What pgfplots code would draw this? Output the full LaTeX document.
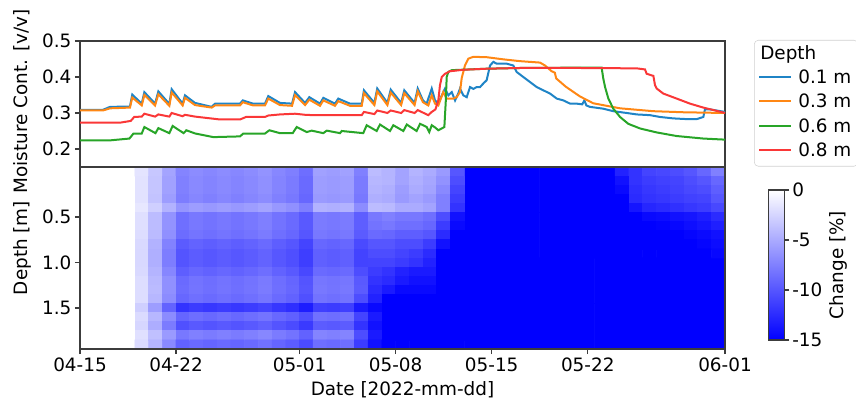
\documentclass[border=0pt]{standalone}
\usepackage{fontspec}
\setmainfont{DejaVu Sans}
\usepackage{pgfplots}
\pgfplotsset{compat=1.18}
\usetikzlibrary{calc}
\newcommand\fs{\fontsize{13.8}{16.5}\selectfont}
\definecolor{cblue}{RGB}{31,132,198}
\definecolor{corange}{RGB}{255,135,20}
\definecolor{cgreen}{RGB}{40,165,40}
\definecolor{cred}{RGB}{250,55,55}
\definecolor{frame}{RGB}{60,60,60}
\pgfplotsset{
  myax/.style={
    scale only axis, width=483.75pt,
    xmin=0, xmax=47,
    tick align=outside, major tick length=3.75pt,
    axis line style={frame, line width=0.9pt},
    major tick style={frame, line width=0.9pt},
    tick label style={font=\fs, inner sep=2.5pt},
    xtick pos=left, ytick pos=left,
  },
  hm/.style={matrix plot*, point meta=explicit, draw=mapped color, line width=0.5pt},
}
\begin{document}
\begin{tikzpicture}
% ---------------- top panel ----------------
\begin{axis}[myax, at={(60pt,177pt)}, anchor=south west, height=94.5pt,
  ymin=0.15, ymax=0.5, xtick=\empty,
  ytick={0.2,0.3,0.4,0.5}, yticklabels={0.2,0.3,0.4,0.5},
  ylabel={Moisture Cont. [v/v]},
  every axis y label/.style={at={(axis description cs:-0.0899,0.52)}, rotate=90, anchor=center, font=\fs},
  legend style={at={(1.045,1.008)}, anchor=north west, draw=black!18, rounded corners=3pt, fill=white,
    font=\fs, inner xsep=3pt, inner ysep=2pt, row sep=0pt,
    nodes={inner xsep=2pt, inner ysep=2.4pt, text height=10.2pt, text depth=3.1pt},
    /tikz/every odd column/.append style={column sep=2.5pt}},
  legend cell align=left,
  legend image code/.code={\draw[#1, line width=1.5pt] (0pt,1.4pt) -- (24pt,1.4pt);},
]
\addlegendimage{empty legend}
\addlegendentry{\hspace*{-28.5pt}Depth}
\addplot[cblue, line width=1.5pt] coordinates {
(0,0.309) (1.68,0.309) (2.19,0.317) (3.64,0.318) (3.81,0.351) (4.50,0.326) (4.69,0.358) (5.47,0.326) (5.71,0.360) (6.51,0.325) (6.68,0.366) (7.48,0.326) (7.65,0.349) (8.38,0.328) (9.60,0.317) (9.84,0.326) (11.66,0.326) (11.86,0.335) (12.61,0.326) (13.48,0.326) (13.72,0.347) (14.57,0.328) (15.45,0.326) (15.67,0.358) (16.40,0.328) (16.71,0.344) (17.49,0.326) (17.73,0.342) (18.58,0.326) (18.82,0.340) (19.67,0.326) (20.53,0.326) (20.69,0.363) (21.45,0.328) (21.66,0.368) (22.40,0.328) (22.64,0.365) (23.40,0.328) (23.63,0.363) (24.38,0.328) (24.61,0.368) (24.99,0.335) (25.26,0.326) (25.63,0.368) (25.87,0.335) (26.11,0.326) (26.36,0.349) (26.60,0.368) (26.84,0.349) (27.09,0.358) (27.33,0.335) (27.57,0.355) (27.69,0.368) (27.93,0.349) (28.18,0.344) (28.42,0.372) (28.66,0.367) (28.91,0.372) (29.15,0.372) (29.39,0.382) (29.63,0.391) (29.88,0.432) (30.12,0.442) (30.36,0.437) (31.09,0.437) (31.57,0.432) (31.82,0.414) (32.30,0.400) (32.79,0.386) (33.28,0.372) (33.76,0.363) (34.25,0.354) (34.74,0.340) (35.22,0.335) (35.71,0.326) (36.19,0.326) (36.60,0.324) (36.75,0.335) (36.90,0.321) (37.16,0.317) (38.13,0.312) (38.86,0.305) (39.84,0.300) (40.57,0.296) (41.53,0.294) (42.26,0.289) (43.23,0.285) (44.21,0.283) (44.94,0.283) (45.42,0.289) (45.54,0.310) (45.91,0.310) (47,0.303)
};
\addlegendentry{0.1 m}
\addplot[corange, line width=1.5pt] coordinates {
(0,0.307) (1.68,0.307) (2.19,0.313) (3.64,0.315) (3.81,0.343) (4.50,0.321) (4.69,0.350) (5.47,0.321) (5.71,0.352) (6.51,0.320) (6.68,0.357) (7.48,0.321) (7.65,0.342) (8.38,0.322) (9.60,0.315) (9.84,0.321) (11.66,0.321) (11.86,0.330) (12.61,0.321) (13.48,0.321) (13.72,0.340) (14.57,0.322) (15.45,0.320) (15.67,0.350) (16.40,0.322) (16.71,0.337) (17.49,0.320) (17.73,0.335) (18.58,0.320) (18.82,0.333) (19.67,0.320) (20.53,0.320) (20.69,0.355) (21.45,0.322) (21.66,0.360) (22.40,0.322) (22.64,0.357) (23.40,0.322) (23.63,0.355) (24.38,0.322) (24.61,0.360) (24.99,0.330) (25.38,0.321) (25.63,0.349) (25.87,0.326) (26.11,0.321) (26.47,0.358) (26.72,0.340) (27.20,0.340) (27.45,0.344) (27.69,0.358) (27.81,0.396) (28.05,0.432) (28.30,0.451) (28.66,0.456) (29.63,0.455) (30.85,0.449) (32.06,0.444) (33.52,0.440) (33.88,0.432) (34.37,0.416) (34.60,0.412) (34.70,0.396) (35.40,0.373) (36.43,0.346) (37.40,0.327) (39.35,0.313) (41.78,0.305) (44.00,0.302) (47,0.300)
};
\addlegendentry{0.3 m}
\addplot[cgreen, line width=1.5pt] coordinates {
(0,0.224) (2.20,0.224) (3.60,0.229) (3.90,0.243) (4.50,0.243) (4.69,0.261) (5.50,0.244) (5.71,0.258) (6.51,0.244) (6.75,0.264) (7.55,0.244) (7.75,0.252) (8.40,0.243) (9.72,0.233) (11.66,0.235) (11.90,0.243) (13.48,0.243) (13.80,0.252) (14.57,0.244) (15.50,0.244) (15.79,0.261) (16.52,0.247) (16.88,0.251) (17.73,0.244) (17.98,0.251) (18.95,0.244) (19.07,0.250) (20.64,0.244) (20.89,0.266) (21.62,0.250) (21.86,0.268) (22.59,0.250) (22.83,0.266) (23.56,0.250) (23.81,0.268) (24.53,0.250) (24.78,0.270) (25.26,0.261) (25.45,0.247) (25.63,0.266) (25.87,0.260) (26.11,0.252) (26.55,0.261) (26.65,0.330) (26.72,0.400) (26.84,0.414) (27.09,0.419) (29.63,0.423) (32.06,0.425) (36.43,0.426) (38.01,0.426) (38.13,0.396) (38.26,0.372) (38.50,0.340) (38.86,0.312) (39.35,0.289) (39.95,0.270) (40.81,0.257) (42.02,0.246) (43.48,0.236) (45.42,0.229) (47,0.226)
};
\addlegendentry{0.6 m}
\addplot[cred, line width=1.5pt] coordinates {
(0,0.273) (2.90,0.273) (3.70,0.278) (3.95,0.289) (4.50,0.290) (4.69,0.298) (5.47,0.290) (5.71,0.296) (6.51,0.290) (6.68,0.300) (7.48,0.291) (7.65,0.295) (8.38,0.290) (10.20,0.282) (11.66,0.282) (12.10,0.289) (13.48,0.289) (13.72,0.293) (14.57,0.296) (15.67,0.298) (16.40,0.295) (17.00,0.294) (20.53,0.294) (20.69,0.303) (21.45,0.297) (21.66,0.307) (22.40,0.300) (22.64,0.307) (23.40,0.300) (23.63,0.308) (24.38,0.300) (24.61,0.308) (25.38,0.294) (25.63,0.303) (25.90,0.310) (26.11,0.335) (26.23,0.377) (26.36,0.400) (26.60,0.409) (26.96,0.416) (27.93,0.420) (29.63,0.423) (32.06,0.425) (36.43,0.425) (40.57,0.424) (41.17,0.421) (41.29,0.409) (41.78,0.403) (41.90,0.377) (42.02,0.368) (42.50,0.354) (43.48,0.340) (44.45,0.326) (45.42,0.315) (46.39,0.306) (47,0.300)
};
\addlegendentry{0.8 m}
\end{axis}
% ---------------- bottom panel ----------------
\begin{axis}[myax, at={(60pt,40.5pt)}, anchor=south west, height=136.5pt,
  axis on top,
  ymin=-0.05, ymax=1.95, y dir=reverse,
  xtick={0,7,16,23,30,37,47},
  xticklabels={04-15,04-22,05-01,05-08,05-15,05-22,06-01},
  ytick={0.5,1.0,1.5}, yticklabels={0.5,1.0,1.5},
  xlabel={Date [2022-mm-dd]}, ylabel={Depth [m]},
  every axis y label/.style={at={(axis description cs:-0.0899,0.555)}, rotate=90, anchor=center, font=\fs},
  every axis x label/.style={at={(axis description cs:0.5,-0.225)}, anchor=center, font=\fs},
  colormap={wb}{rgb255=(0,0,255) rgb255=(255,255,255)},
  point meta min=-15, point meta max=0,
  colorbar,
  colorbar style={
    at={($(parent axis.north east)+(24pt,-17.25pt)$)}, anchor=north west,
    scale only axis, width=12pt, height=112.5pt,
    ytick={-15,-10,-5,0}, yticklabels={-15,-10,-5,0},
    ytick pos=right, yticklabel pos=right,
    tick align=outside, major tick length=3.75pt,
    axis line style={frame, line width=0.9pt},
    major tick style={frame, line width=0.9pt},
    yticklabel style={font=\fs, inner sep=2pt},
    ylabel={Change [\%]},
    every axis y label/.style={at={(axis description cs:4.375,0.5)}, rotate=90, anchor=center, font=\fs},
  },
]
% block A: days 0-4, unchanged
\addplot[hm, mesh/cols=2] table[meta=c, row sep=\\] {
x y c\\ 1 0.45 0\\ 3 0.45 0\\ 1 1.45 0\\ 3 1.45 0\\
};
% block C2: days 28-39, upper depths, saturated
\addplot[hm, mesh/cols=2] table[meta=c, row sep=\\] {
x y c\\ 30.75 0.2 -15\\ 36.25 0.2 -15\\ 30.75 0.7 -15\\ 36.25 0.7 -15\\
};
% block C: days 28-47, lower depths, saturated
\addplot[hm, mesh/cols=2] table[meta=c, row sep=\\] {
x y c\\ 32.75 1.2 -15\\ 42.25 1.2 -15\\ 32.75 1.7 -15\\ 42.25 1.7 -15\\
};
% block B: days 4-28
\addplot[hm, mesh/cols=24] table[meta=c, row sep=\\] {
x y c\\
4.5 0.0 -1.7\\ 5.5 0.0 -3.4\\ 6.5 0.0 -5.4\\ 7.5 0.0 -7.3\\ 8.5 0.0 -6.8\\ 9.5 0.0 -7.1\\ 10.5 0.0 -6.8\\ 11.5 0.0 -7.1\\ 12.5 0.0 -6.8\\ 13.5 0.0 -6.4\\ 14.5 0.0 -7.1\\ 15.5 0.0 -7.6\\ 16.5 0.0 -8.6\\ 17.5 0.0 -5.6\\ 18.5 0.0 -5.8\\ 19.5 0.0 -5.6\\ 20.5 0.0 -7.5\\ 21.5 0.0 -4.0\\ 22.5 0.0 -4.5\\ 23.5 0.0 -5.5\\ 24.5 0.0 -4.5\\ 25.5 0.0 -5.0\\ 26.5 0.0 -6.0\\ 27.5 0.0 -10.0\\
4.5 0.1 -1.8\\ 5.5 0.1 -3.5\\ 6.5 0.1 -5.6\\ 7.5 0.1 -7.5\\ 8.5 0.1 -7.0\\ 9.5 0.1 -7.3\\ 10.5 0.1 -7.0\\ 11.5 0.1 -7.3\\ 12.5 0.1 -7.0\\ 13.5 0.1 -6.6\\ 14.5 0.1 -7.3\\ 15.5 0.1 -7.8\\ 16.5 0.1 -8.8\\ 17.5 0.1 -5.8\\ 18.5 0.1 -6.0\\ 19.5 0.1 -5.8\\ 20.5 0.1 -7.8\\ 21.5 0.1 -4.3\\ 22.5 0.1 -4.5\\ 23.5 0.1 -5.5\\ 24.5 0.1 -4.8\\ 25.5 0.1 -5.3\\ 26.5 0.1 -6.5\\ 27.5 0.1 -10.5\\
4.5 0.2 -1.8\\ 5.5 0.2 -3.5\\ 6.5 0.2 -5.6\\ 7.5 0.2 -7.5\\ 8.5 0.2 -7.0\\ 9.5 0.2 -7.3\\ 10.5 0.2 -7.0\\ 11.5 0.2 -7.3\\ 12.5 0.2 -7.0\\ 13.5 0.2 -6.6\\ 14.5 0.2 -7.3\\ 15.5 0.2 -7.8\\ 16.5 0.2 -8.8\\ 17.5 0.2 -5.8\\ 18.5 0.2 -6.0\\ 19.5 0.2 -5.8\\ 20.5 0.2 -7.8\\ 21.5 0.2 -4.5\\ 22.5 0.2 -4.8\\ 23.5 0.2 -5.8\\ 24.5 0.2 -5.0\\ 25.5 0.2 -5.5\\ 26.5 0.2 -7.0\\ 27.5 0.2 -11.0\\
4.5 0.3 -1.8\\ 5.5 0.3 -3.6\\ 6.5 0.3 -5.8\\ 7.5 0.3 -7.7\\ 8.5 0.3 -7.2\\ 9.5 0.3 -7.5\\ 10.5 0.3 -7.2\\ 11.5 0.3 -7.5\\ 12.5 0.3 -7.2\\ 13.5 0.3 -6.8\\ 14.5 0.3 -7.5\\ 15.5 0.3 -8.0\\ 16.5 0.3 -9.0\\ 17.5 0.3 -6.0\\ 18.5 0.3 -6.2\\ 19.5 0.3 -6.0\\ 20.5 0.3 -8.0\\ 21.5 0.3 -4.8\\ 22.5 0.3 -5.0\\ 23.5 0.3 -6.0\\ 24.5 0.3 -5.5\\ 25.5 0.3 -6.0\\ 26.5 0.3 -7.5\\ 27.5 0.3 -11.5\\
4.5 0.4 -1.5\\ 5.5 0.4 -2.9\\ 6.5 0.4 -4.6\\ 7.5 0.4 -6.3\\ 8.5 0.4 -5.8\\ 9.5 0.4 -6.1\\ 10.5 0.4 -5.8\\ 11.5 0.4 -6.1\\ 12.5 0.4 -5.8\\ 13.5 0.4 -5.4\\ 14.5 0.4 -6.1\\ 15.5 0.4 -6.6\\ 16.5 0.4 -7.6\\ 17.5 0.4 -4.6\\ 18.5 0.4 -4.8\\ 19.5 0.4 -4.6\\ 20.5 0.4 -6.8\\ 21.5 0.4 -4.0\\ 22.5 0.4 -4.2\\ 23.5 0.4 -5.0\\ 24.5 0.4 -5.0\\ 25.5 0.4 -5.5\\ 26.5 0.4 -7.5\\ 27.5 0.4 -12.0\\
4.5 0.5 -2.0\\ 5.5 0.5 -4.0\\ 6.5 0.5 -6.4\\ 7.5 0.5 -8.5\\ 8.5 0.5 -8.0\\ 9.5 0.5 -8.3\\ 10.5 0.5 -8.0\\ 11.5 0.5 -8.3\\ 12.5 0.5 -8.0\\ 13.5 0.5 -7.6\\ 14.5 0.5 -8.3\\ 15.5 0.5 -8.8\\ 16.5 0.5 -9.8\\ 17.5 0.5 -7.8\\ 18.5 0.5 -8.0\\ 19.5 0.5 -7.8\\ 20.5 0.5 -9.5\\ 21.5 0.5 -8.0\\ 22.5 0.5 -7.5\\ 23.5 0.5 -8.0\\ 24.5 0.5 -8.0\\ 25.5 0.5 -8.5\\ 26.5 0.5 -10.5\\ 27.5 0.5 -14.0\\
4.5 0.6 -2.0\\ 5.5 0.6 -4.0\\ 6.5 0.6 -6.4\\ 7.5 0.6 -8.5\\ 8.5 0.6 -8.0\\ 9.5 0.6 -8.3\\ 10.5 0.6 -8.0\\ 11.5 0.6 -8.3\\ 12.5 0.6 -8.0\\ 13.5 0.6 -7.6\\ 14.5 0.6 -8.3\\ 15.5 0.6 -8.8\\ 16.5 0.6 -9.8\\ 17.5 0.6 -7.8\\ 18.5 0.6 -8.0\\ 19.5 0.6 -7.8\\ 20.5 0.6 -9.5\\ 21.5 0.6 -8.3\\ 22.5 0.6 -8.0\\ 23.5 0.6 -8.5\\ 24.5 0.6 -8.5\\ 25.5 0.6 -9.0\\ 26.5 0.6 -11.5\\ 27.5 0.6 -14.5\\
4.5 0.7 -2.1\\ 5.5 0.7 -4.1\\ 6.5 0.7 -6.6\\ 7.5 0.7 -8.7\\ 8.5 0.7 -8.2\\ 9.5 0.7 -8.5\\ 10.5 0.7 -8.2\\ 11.5 0.7 -8.5\\ 12.5 0.7 -8.2\\ 13.5 0.7 -7.8\\ 14.5 0.7 -8.5\\ 15.5 0.7 -9.0\\ 16.5 0.7 -10.0\\ 17.5 0.7 -8.0\\ 18.5 0.7 -8.2\\ 19.5 0.7 -8.0\\ 20.5 0.7 -9.7\\ 21.5 0.7 -8.8\\ 22.5 0.7 -9.0\\ 23.5 0.7 -9.5\\ 24.5 0.7 -9.5\\ 25.5 0.7 -10.0\\ 26.5 0.7 -12.5\\ 27.5 0.7 -15\\
4.5 0.8 -2.3\\ 5.5 0.8 -4.6\\ 6.5 0.8 -7.4\\ 7.5 0.8 -9.7\\ 8.5 0.8 -9.2\\ 9.5 0.8 -9.5\\ 10.5 0.8 -9.2\\ 11.5 0.8 -9.5\\ 12.5 0.8 -9.2\\ 13.5 0.8 -8.8\\ 14.5 0.8 -9.5\\ 15.5 0.8 -10.0\\ 16.5 0.8 -11.0\\ 17.5 0.8 -9.0\\ 18.5 0.8 -9.2\\ 19.5 0.8 -9.0\\ 20.5 0.8 -10.7\\ 21.5 0.8 -10.0\\ 22.5 0.8 -10.0\\ 23.5 0.8 -10.5\\ 24.5 0.8 -10.5\\ 25.5 0.8 -11.5\\ 26.5 0.8 -14.0\\ 27.5 0.8 -15\\
4.5 0.9 -2.4\\ 5.5 0.9 -4.8\\ 6.5 0.9 -7.7\\ 7.5 0.9 -10.1\\ 8.5 0.9 -9.6\\ 9.5 0.9 -9.9\\ 10.5 0.9 -9.6\\ 11.5 0.9 -9.9\\ 12.5 0.9 -9.6\\ 13.5 0.9 -9.2\\ 14.5 0.9 -9.9\\ 15.5 0.9 -10.4\\ 16.5 0.9 -11.4\\ 17.5 0.9 -9.4\\ 18.5 0.9 -9.6\\ 19.5 0.9 -9.4\\ 20.5 0.9 -11.1\\ 21.5 0.9 -10.5\\ 22.5 0.9 -10.5\\ 23.5 0.9 -11.0\\ 24.5 0.9 -11.5\\ 25.5 0.9 -12.5\\ 26.5 0.9 -15\\ 27.5 0.9 -15\\
4.5 1.0 -2.4\\ 5.5 1.0 -4.8\\ 6.5 1.0 -7.7\\ 7.5 1.0 -10.1\\ 8.5 1.0 -9.6\\ 9.5 1.0 -9.9\\ 10.5 1.0 -9.6\\ 11.5 1.0 -9.9\\ 12.5 1.0 -9.6\\ 13.5 1.0 -9.2\\ 14.5 1.0 -9.9\\ 15.5 1.0 -10.4\\ 16.5 1.0 -11.4\\ 17.5 1.0 -9.4\\ 18.5 1.0 -9.6\\ 19.5 1.0 -9.4\\ 20.5 1.0 -11.1\\ 21.5 1.0 -11.0\\ 22.5 1.0 -11.0\\ 23.5 1.0 -11.5\\ 24.5 1.0 -12.0\\ 25.5 1.0 -13.0\\ 26.5 1.0 -15\\ 27.5 1.0 -15\\
4.5 1.1 -2.3\\ 5.5 1.1 -4.5\\ 6.5 1.1 -7.2\\ 7.5 1.1 -9.5\\ 8.5 1.1 -9.0\\ 9.5 1.1 -9.3\\ 10.5 1.1 -9.0\\ 11.5 1.1 -9.3\\ 12.5 1.1 -9.0\\ 13.5 1.1 -8.6\\ 14.5 1.1 -9.3\\ 15.5 1.1 -9.8\\ 16.5 1.1 -10.8\\ 17.5 1.1 -8.8\\ 18.5 1.1 -9.0\\ 19.5 1.1 -8.8\\ 20.5 1.1 -10.5\\ 21.5 1.1 -11.5\\ 22.5 1.1 -12.0\\ 23.5 1.1 -13.0\\ 24.5 1.1 -13.5\\ 25.5 1.1 -13.5\\ 26.5 1.1 -15\\ 27.5 1.1 -15\\
4.5 1.2 -2.1\\ 5.5 1.2 -4.2\\ 6.5 1.2 -6.6\\ 7.5 1.2 -8.8\\ 8.5 1.2 -8.3\\ 9.5 1.2 -8.6\\ 10.5 1.2 -8.3\\ 11.5 1.2 -8.6\\ 12.5 1.2 -8.3\\ 13.5 1.2 -7.9\\ 14.5 1.2 -8.6\\ 15.5 1.2 -9.1\\ 16.5 1.2 -10.1\\ 17.5 1.2 -8.1\\ 18.5 1.2 -8.3\\ 19.5 1.2 -8.1\\ 20.5 1.2 -9.8\\ 21.5 1.2 -12.0\\ 22.5 1.2 -12.5\\ 23.5 1.2 -13.5\\ 24.5 1.2 -14.0\\ 25.5 1.2 -14.0\\ 26.5 1.2 -15\\ 27.5 1.2 -15\\
4.5 1.3 -2.1\\ 5.5 1.3 -4.1\\ 6.5 1.3 -6.6\\ 7.5 1.3 -8.7\\ 8.5 1.3 -8.2\\ 9.5 1.3 -8.5\\ 10.5 1.3 -8.2\\ 11.5 1.3 -8.5\\ 12.5 1.3 -8.2\\ 13.5 1.3 -7.8\\ 14.5 1.3 -8.5\\ 15.5 1.3 -9.0\\ 16.5 1.3 -10.0\\ 17.5 1.3 -8.0\\ 18.5 1.3 -8.2\\ 19.5 1.3 -8.0\\ 20.5 1.3 -9.7\\ 21.5 1.3 -12.5\\ 22.5 1.3 -13.5\\ 23.5 1.3 -14.5\\ 24.5 1.3 -14.5\\ 25.5 1.3 -14.5\\ 26.5 1.3 -15\\ 27.5 1.3 -15\\
4.5 1.4 -2.1\\ 5.5 1.4 -4.3\\ 6.5 1.4 -6.8\\ 7.5 1.4 -9.0\\ 8.5 1.4 -8.5\\ 9.5 1.4 -8.8\\ 10.5 1.4 -8.5\\ 11.5 1.4 -8.8\\ 12.5 1.4 -8.5\\ 13.5 1.4 -8.1\\ 14.5 1.4 -8.8\\ 15.5 1.4 -9.3\\ 16.5 1.4 -10.3\\ 17.5 1.4 -8.3\\ 18.5 1.4 -8.5\\ 19.5 1.4 -8.3\\ 20.5 1.4 -10.5\\ 21.5 1.4 -13.0\\ 22.5 1.4 -15\\ 23.5 1.4 -15\\ 24.5 1.4 -15\\ 25.5 1.4 -15\\ 26.5 1.4 -15\\ 27.5 1.4 -15\\
4.5 1.5 -2.9\\ 5.5 1.5 -5.8\\ 6.5 1.5 -9.2\\ 7.5 1.5 -12.0\\ 8.5 1.5 -11.5\\ 9.5 1.5 -11.8\\ 10.5 1.5 -11.5\\ 11.5 1.5 -11.8\\ 12.5 1.5 -11.5\\ 13.5 1.5 -11.1\\ 14.5 1.5 -11.8\\ 15.5 1.5 -12.3\\ 16.5 1.5 -13.3\\ 17.5 1.5 -11.3\\ 18.5 1.5 -11.5\\ 19.5 1.5 -11.3\\ 20.5 1.5 -13.5\\ 21.5 1.5 -14.5\\ 22.5 1.5 -15\\ 23.5 1.5 -15\\ 24.5 1.5 -15\\ 25.5 1.5 -15\\ 26.5 1.5 -15\\ 27.5 1.5 -15\\
4.5 1.6 -2.2\\ 5.5 1.6 -4.3\\ 6.5 1.6 -6.9\\ 7.5 1.6 -9.1\\ 8.5 1.6 -8.6\\ 9.5 1.6 -8.9\\ 10.5 1.6 -8.6\\ 11.5 1.6 -8.9\\ 12.5 1.6 -8.6\\ 13.5 1.6 -8.2\\ 14.5 1.6 -8.9\\ 15.5 1.6 -9.4\\ 16.5 1.6 -10.4\\ 17.5 1.6 -8.4\\ 18.5 1.6 -8.6\\ 19.5 1.6 -8.4\\ 20.5 1.6 -11.0\\ 21.5 1.6 -13.5\\ 22.5 1.6 -15\\ 23.5 1.6 -15\\ 24.5 1.6 -15\\ 25.5 1.6 -15\\ 26.5 1.6 -15\\ 27.5 1.6 -15\\
4.5 1.7 -2.5\\ 5.5 1.7 -4.9\\ 6.5 1.7 -7.8\\ 7.5 1.7 -10.3\\ 8.5 1.7 -9.8\\ 9.5 1.7 -10.1\\ 10.5 1.7 -9.8\\ 11.5 1.7 -10.1\\ 12.5 1.7 -9.8\\ 13.5 1.7 -9.4\\ 14.5 1.7 -10.1\\ 15.5 1.7 -10.6\\ 16.5 1.7 -11.6\\ 17.5 1.7 -9.6\\ 18.5 1.7 -9.8\\ 19.5 1.7 -9.6\\ 20.5 1.7 -12.0\\ 21.5 1.7 -14.0\\ 22.5 1.7 -15\\ 23.5 1.7 -15\\ 24.5 1.7 -15\\ 25.5 1.7 -15\\ 26.5 1.7 -15\\ 27.5 1.7 -15\\
4.5 1.8 -1.9\\ 5.5 1.8 -3.8\\ 6.5 1.8 -6.0\\ 7.5 1.8 -8.0\\ 8.5 1.8 -7.5\\ 9.5 1.8 -7.8\\ 10.5 1.8 -7.5\\ 11.5 1.8 -7.8\\ 12.5 1.8 -7.5\\ 13.5 1.8 -7.1\\ 14.5 1.8 -7.8\\ 15.5 1.8 -8.3\\ 16.5 1.8 -9.3\\ 17.5 1.8 -7.3\\ 18.5 1.8 -7.5\\ 19.5 1.8 -7.3\\ 20.5 1.8 -10.5\\ 21.5 1.8 -13.5\\ 22.5 1.8 -15\\ 23.5 1.8 -15\\ 24.5 1.8 -15\\ 25.5 1.8 -15\\ 26.5 1.8 -15\\ 27.5 1.8 -15\\
4.5 1.9 -2.2\\ 5.5 1.9 -4.4\\ 6.5 1.9 -7.0\\ 7.5 1.9 -9.3\\ 8.5 1.9 -8.8\\ 9.5 1.9 -9.1\\ 10.5 1.9 -8.8\\ 11.5 1.9 -9.1\\ 12.5 1.9 -8.8\\ 13.5 1.9 -8.4\\ 14.5 1.9 -9.1\\ 15.5 1.9 -9.6\\ 16.5 1.9 -10.6\\ 17.5 1.9 -8.6\\ 18.5 1.9 -8.8\\ 19.5 1.9 -8.6\\ 20.5 1.9 -11.5\\ 21.5 1.9 -14.0\\ 22.5 1.9 -15\\ 23.5 1.9 -15\\ 24.5 1.9 -15\\ 25.5 1.9 -15\\ 26.5 1.9 -15\\ 27.5 1.9 -15\\
};
% block D: days 39-47, upper depths
\addplot[hm, mesh/cols=8] table[meta=c, row sep=\\] {
x y c\\
39.5 0.0 -13.0\\ 40.5 0.0 -12.0\\ 41.5 0.0 -11.0\\ 42.5 0.0 -10.8\\ 43.5 0.0 -10.5\\ 44.5 0.0 -10.0\\ 45.5 0.0 -9.0\\ 46.5 0.0 -7.5\\
39.5 0.1 -14.0\\ 40.5 0.1 -12.0\\ 41.5 0.1 -11.5\\ 42.5 0.1 -11.2\\ 43.5 0.1 -11.0\\ 44.5 0.1 -10.5\\ 45.5 0.1 -10.0\\ 46.5 0.1 -9.0\\
39.5 0.2 -14.5\\ 40.5 0.2 -12.3\\ 41.5 0.2 -11.8\\ 42.5 0.2 -11.5\\ 43.5 0.2 -11.2\\ 44.5 0.2 -10.8\\ 45.5 0.2 -10.5\\ 46.5 0.2 -9.5\\
39.5 0.3 -15\\ 40.5 0.3 -12.5\\ 41.5 0.3 -12.0\\ 42.5 0.3 -11.8\\ 43.5 0.3 -11.5\\ 44.5 0.3 -11.2\\ 45.5 0.3 -11.0\\ 46.5 0.3 -10.0\\
39.5 0.4 -15\\ 40.5 0.4 -13.8\\ 41.5 0.4 -12.8\\ 42.5 0.4 -12.5\\ 43.5 0.4 -12.2\\ 44.5 0.4 -11.8\\ 45.5 0.4 -11.5\\ 46.5 0.4 -10.8\\
39.5 0.5 -15\\ 40.5 0.5 -15\\ 41.5 0.5 -14.5\\ 42.5 0.5 -14.3\\ 43.5 0.5 -14.0\\ 44.5 0.5 -13.8\\ 45.5 0.5 -13.3\\ 46.5 0.5 -12.5\\
39.5 0.6 -15\\ 40.5 0.6 -15\\ 41.5 0.6 -15\\ 42.5 0.6 -14.8\\ 43.5 0.6 -14.6\\ 44.5 0.6 -14.2\\ 45.5 0.6 -13.8\\ 46.5 0.6 -13.2\\
39.5 0.7 -15\\ 40.5 0.7 -15\\ 41.5 0.7 -15\\ 42.5 0.7 -15\\ 43.5 0.7 -15\\ 44.5 0.7 -14.7\\ 45.5 0.7 -14.4\\ 46.5 0.7 -14.0\\
39.5 0.8 -15\\ 40.5 0.8 -15\\ 41.5 0.8 -15\\ 42.5 0.8 -15\\ 43.5 0.8 -15\\ 44.5 0.8 -15\\ 45.5 0.8 -14.7\\ 46.5 0.8 -14.3\\
39.5 0.9 -15\\ 40.5 0.9 -15\\ 41.5 0.9 -15\\ 42.5 0.9 -15\\ 43.5 0.9 -15\\ 44.5 0.9 -15\\ 45.5 0.9 -15\\ 46.5 0.9 -14.6\\
};
\end{axis}
\pgfresetboundingbox
\path[use as bounding box] (0pt,0pt) rectangle (642pt,302.25pt);
\end{tikzpicture}
\end{document}
